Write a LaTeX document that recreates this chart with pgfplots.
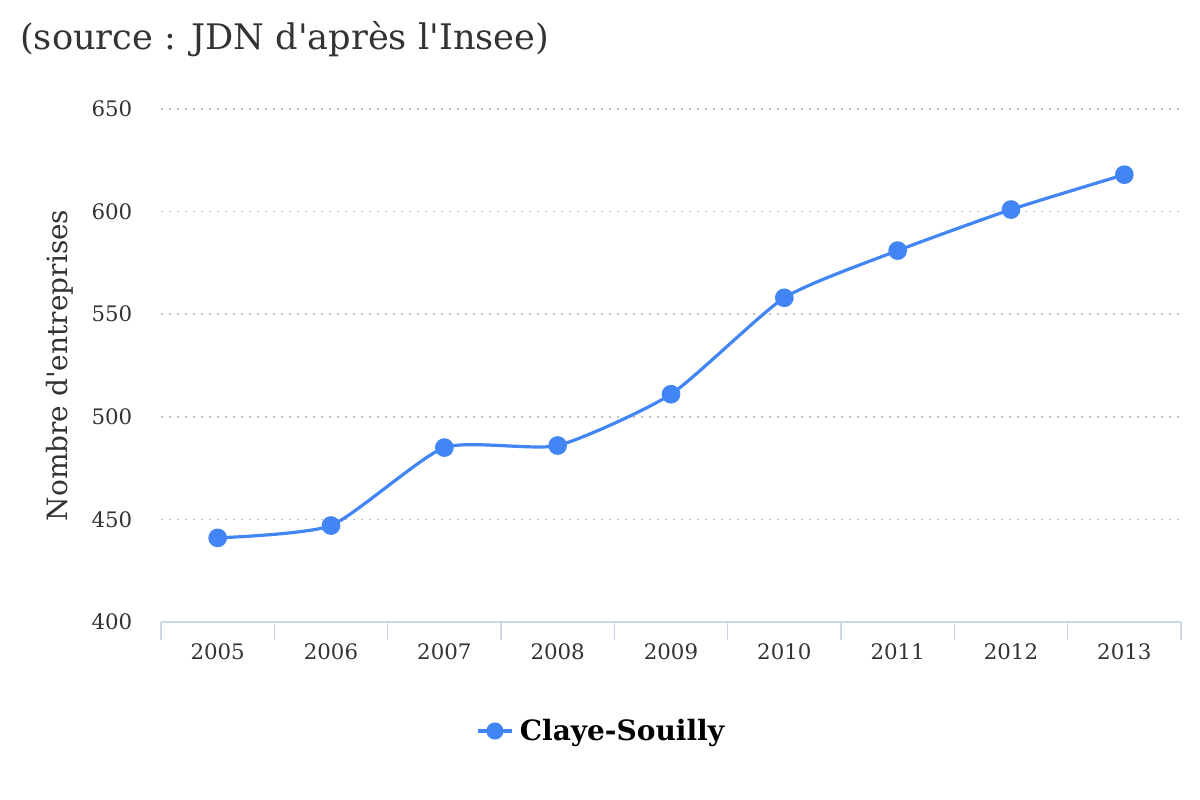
\documentclass[border=0pt]{standalone}
\usepackage{pgfplots}
\pgfplotsset{compat=1.18}
\usepackage{fontspec}
\setmainfont{DejaVu Serif}

\definecolor{serie}{HTML}{4285F4}
\definecolor{txt}{HTML}{333333}
\definecolor{axe}{HTML}{CCD6EB}
\definecolor{grille}{HTML}{BDBDBD}

\begin{document}
\begin{tikzpicture}
% page de 1200x800 px, 1 px = 0.75 pt
\useasboundingbox (0pt,0pt) rectangle (900pt,600pt);

\node[anchor=base west, text=txt, font=\fontsize{26.4}{30}\selectfont, inner sep=0pt]
  at (15pt,563pt) {(source : JDN d\textquotesingle après l\textquotesingle Insee)};

\begin{axis}[
  at={(120.75pt,133.5pt)}, anchor=south west,
  scale only axis,
  width=765pt, height=384.75pt,
  xmin=-0.5, xmax=8.5,
  ymin=400, ymax=650,
  ytick={400,450,...,650},
  xtick={0,...,8},
  xticklabels={2005,2006,2007,2008,2009,2010,2011,2012,2013},
  minor xtick={-0.5,0.5,...,8.5},
  axis x line*=bottom,
  axis y line*=left,
  y axis line style={draw=none},
  x axis line style={axe, line width=1pt, -},
  major tick length=0pt,
  minor tick length=13.5pt,
  tick align=outside,
  minor tick style={axe, line width=1pt},
  ymajorgrids,
  major grid style={grille, line width=1.2pt, dash pattern=on 1.2pt off 4.8pt},
  tick label style={text=txt, font=\fontsize{16}{19}\selectfont},
  xticklabel style={yshift=-13pt},
  yticklabel style={xshift=-18pt},
  /pgf/number format/assume math mode=true,
  ylabel={Nombre d\textquotesingle entreprises},
  every axis y label/.style={at={(axis description cs:-0.099,0.5)}, rotate=90, anchor=center, text=txt, font=\fontsize{21}{25}\selectfont},
  legend style={at={(axis description cs:0.434,-0.2125)}, anchor=center, draw=none, fill=none,
    font=\fontsize{21}{25}\selectfont\bfseries, inner sep=0pt,
    nodes={inner xsep=5pt}},
  legend image code/.code={
    \draw[serie, line width=2.4pt] (0pt,0pt) -- (25pt,0pt);
    \fill[serie] (12.5pt,0pt) circle (5.2pt);},
  legend cell align=left,
  clip=false,
]
\addplot[serie, line width=2.4pt, smooth, tension=0.35, mark=*, mark size=5.8pt,
  mark options={solid, fill=serie, draw=none}]
  coordinates {
  (0,441) (1,447) (2,485) (3,486) (4,511) (5,558) (6,581) (7,601) (8,618)
  };
\addlegendentry{Claye-Souilly}
\end{axis}
\end{tikzpicture}
\end{document}
